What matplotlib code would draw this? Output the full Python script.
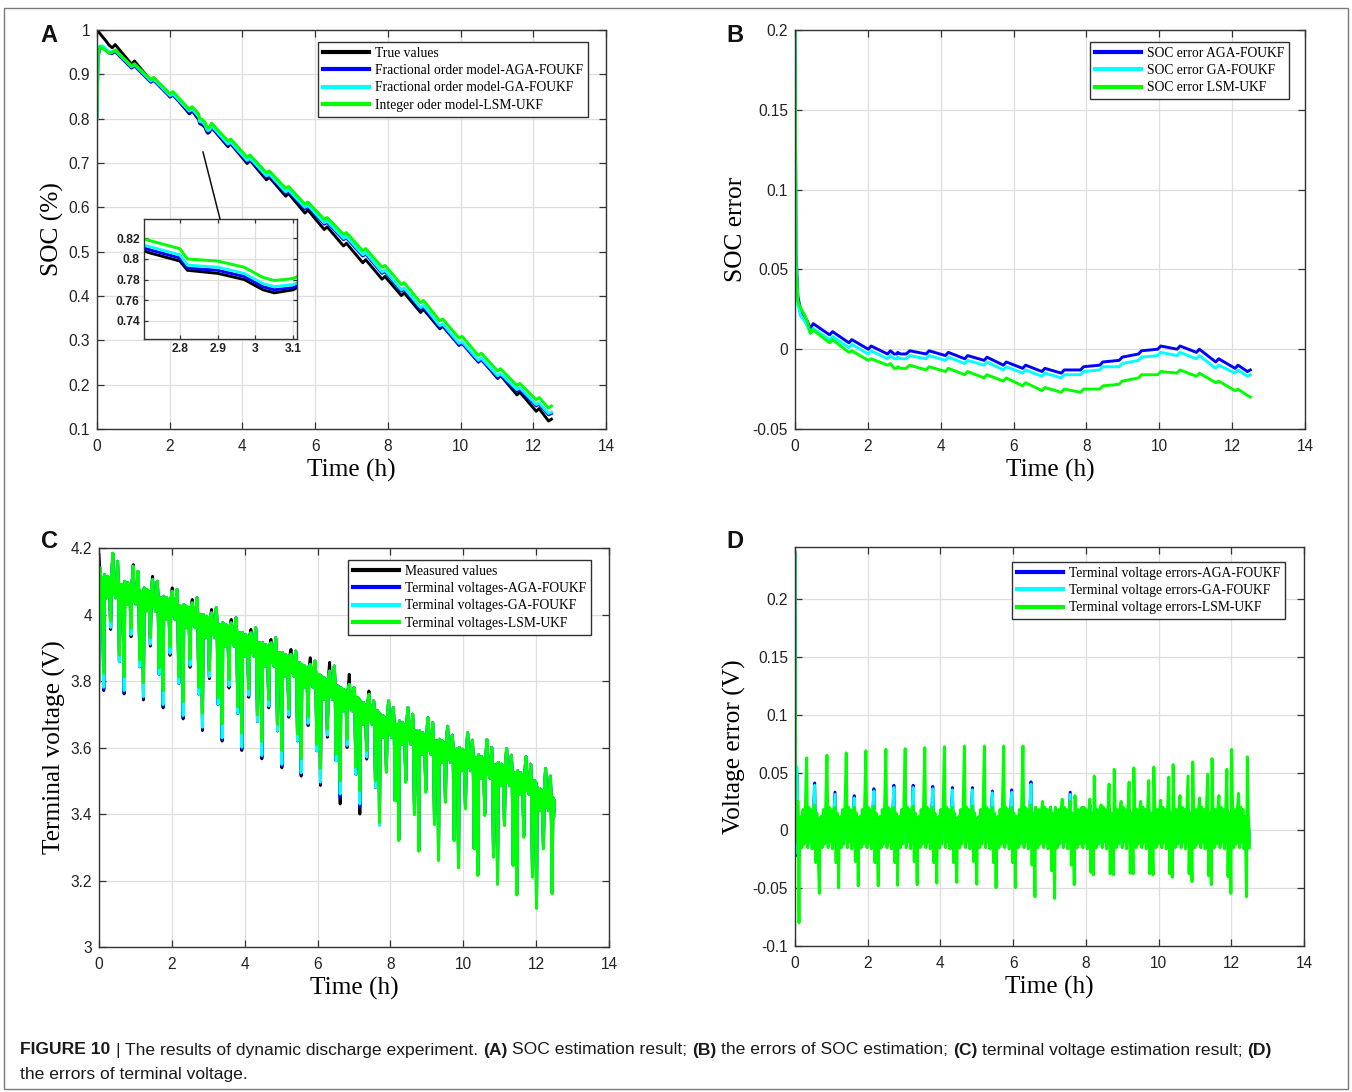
import matplotlib
matplotlib.use('Agg')
import matplotlib.pyplot as plt
from matplotlib.lines import Line2D
from matplotlib.patches import Rectangle
from matplotlib.ticker import FuncFormatter

plt.rcParams['font.family'] = ['Liberation Sans', 'DejaVu Sans']

# ============================ DATA ============================
# ---- SOC (panels A and B) ----
T_SOC = [0.00, 0.03, 0.08, 0.15, 0.25, 0.33, 0.42, 0.50, 0.95, 1.03,
         1.48, 1.56, 2.01, 2.09, 2.54, 2.62, 2.72, 2.80, 2.82, 2.90,
         2.97, 3.02, 3.05, 3.10, 3.15, 3.60, 3.68, 4.13, 4.21, 4.66,
         4.74, 5.19, 5.27, 5.72, 5.80, 6.25, 6.33, 6.78, 6.86, 7.31,
         7.39, 7.84, 7.92, 8.37, 8.45, 8.90, 8.98, 9.43, 9.51, 9.96,
         10.04, 10.49, 10.57, 11.02, 11.10, 11.55, 11.63, 12.08, 12.16, 12.42,
         12.50]
SOC_TRUE = [1.000, 0.997, 0.992, 0.985, 0.975, 0.966, 0.960, 0.967, 0.923, 0.930,
            0.886, 0.892, 0.849, 0.855, 0.811, 0.818, 0.806, 0.798, 0.789, 0.786,
            0.780, 0.770, 0.767, 0.770, 0.780, 0.737, 0.743, 0.699, 0.706, 0.662,
            0.668, 0.625, 0.631, 0.587, 0.594, 0.550, 0.556, 0.513, 0.519, 0.475,
            0.482, 0.438, 0.444, 0.401, 0.407, 0.363, 0.370, 0.326, 0.332, 0.289,
            0.295, 0.251, 0.258, 0.214, 0.221, 0.177, 0.183, 0.140, 0.146, 0.118,
            0.122]
# SOC error = true - estimate
ERR_AGA = [0.200, 0.060, 0.033, 0.025, 0.021, 0.018, 0.013, 0.016, 0.009, 0.011,
           0.004, 0.006, 0.000, 0.002, -0.003, -0.001, -0.003, -0.003, -0.002, -0.003,
           -0.003, -0.003, -0.003, -0.002, -0.001, -0.003, -0.001, -0.004, -0.002, -0.006,
           -0.004, -0.007, -0.005, -0.010, -0.008, -0.012, -0.010, -0.014, -0.012, -0.015,
           -0.013, -0.013, -0.011, -0.010, -0.008, -0.007, -0.005, -0.003, -0.001, 0.000,
           0.002, 0.000, 0.002, -0.002, 0.000, -0.008, -0.006, -0.012, -0.010, -0.014,
           -0.013]
ERR_GA = [0.200, 0.055, 0.028, 0.021, 0.018, 0.015, 0.010, 0.013, 0.006, 0.008,
          0.001, 0.003, -0.003, -0.001, -0.006, -0.004, -0.006, -0.006, -0.005, -0.006,
          -0.006, -0.006, -0.006, -0.005, -0.004, -0.006, -0.004, -0.007, -0.005, -0.009,
          -0.007, -0.010, -0.008, -0.013, -0.011, -0.015, -0.013, -0.017, -0.015, -0.018,
          -0.016, -0.016, -0.014, -0.013, -0.011, -0.011, -0.009, -0.007, -0.005, -0.004,
          -0.002, -0.004, -0.002, -0.006, -0.004, -0.012, -0.010, -0.015, -0.013, -0.017,
          -0.016]
ERR_LSM = [0.200, 0.050, 0.030, 0.026, 0.022, 0.018, 0.010, 0.012, 0.004, 0.006,
           -0.002, -0.001, -0.007, -0.006, -0.010, -0.009, -0.012, -0.012, -0.011, -0.012,
           -0.012, -0.012, -0.012, -0.011, -0.010, -0.013, -0.011, -0.014, -0.012, -0.016,
           -0.014, -0.018, -0.016, -0.020, -0.018, -0.023, -0.021, -0.026, -0.024, -0.027,
           -0.025, -0.027, -0.025, -0.025, -0.023, -0.022, -0.020, -0.018, -0.016, -0.016,
           -0.014, -0.015, -0.013, -0.017, -0.015, -0.021, -0.020, -0.026, -0.025, -0.029,
           -0.030]

# ---- Terminal voltage (panel C), one entry per discharge cycle ----
T_END = 12.5
TD = [0.13, 0.69, 1.22, 1.76, 2.31, 2.84, 3.38, 3.92, 4.47, 5.02, 5.55, 6.08,
      6.62, 7.16, 7.70, 8.23, 8.78, 9.32, 9.87, 10.40, 10.94, 11.47, 12.01, 12.44]
BAND = [4.120, 4.100, 4.080, 4.055, 4.030, 4.000, 3.975, 3.945, 3.915, 3.885, 3.850, 3.815,
        3.780, 3.740, 3.700, 3.680, 3.650, 3.625, 3.600, 3.578, 3.555, 3.530, 3.480, 3.450]
V_DEEP_MEAS = [3.771, 3.761, 3.743, 3.719, 3.686, 3.651, 3.619, 3.591, 3.566, 3.539, 3.514, 3.486,
               3.430, 3.400, 3.370, 3.322, 3.290, 3.262, 3.240, 3.217, 3.190, 3.158, 3.118, 3.162]
V_DEEP_AGA = [3.776, 3.766, 3.748, 3.724, 3.691, 3.656, 3.624, 3.596, 3.571, 3.544, 3.519, 3.491,
              3.450, 3.420, 3.368, 3.324, 3.292, 3.264, 3.242, 3.219, 3.192, 3.160, 3.120, 3.164]
V_DEEP_GA = [3.781, 3.771, 3.753, 3.729, 3.696, 3.661, 3.629, 3.601, 3.576, 3.549, 3.524, 3.496,
             3.460, 3.430, 3.365, 3.324, 3.292, 3.264, 3.242, 3.219, 3.192, 3.160, 3.120, 3.164]
V_DEEP_LSM = [3.823, 3.813, 3.795, 3.771, 3.738, 3.703, 3.671, 3.643, 3.618, 3.591, 3.566, 3.538,
              3.500, 3.470, 3.375, 3.320, 3.288, 3.260, 3.238, 3.215, 3.188, 3.156, 3.116, 3.160]
V_DIPA_MEAS = [3.955, 3.933, 3.905, 3.877, 3.841, 3.807, 3.779, 3.751, 3.719, 3.691, 3.666, 3.631,
               3.600, 3.565, 3.530, 3.500, 3.470, 3.440, 3.420, 3.400, 3.370, 3.335, 3.300, 3.300]
V_DIPA_FO = [3.961, 3.939, 3.911, 3.883, 3.847, 3.813, 3.785, 3.757, 3.725, 3.697, 3.672, 3.637,
             3.606, 3.571, 3.530, 3.500, 3.470, 3.440, 3.420, 3.400, 3.370, 3.335, 3.300, 3.300]
V_DIPA_LSM = [3.980, 3.958, 3.930, 3.902, 3.866, 3.832, 3.804, 3.776, 3.744, 3.716, 3.691, 3.656,
              3.625, 3.590, 3.525, 3.495, 3.465, 3.435, 3.415, 3.395, 3.365, 3.330, 3.295, 3.295]
V_DIPB = [3.858, 3.843, 3.820, 3.793, 3.761, 3.730, 3.703, 3.678, 3.650, 3.620, 3.590, 3.560,
          3.520, 3.480, 3.440, 3.400, 3.370, 3.322, 3.297, 3.272, 3.247, 3.212, 3.300, 3.300]
V_DIPB_LSM = [3.878, 3.863, 3.840, 3.813, 3.781, 3.750, 3.723, 3.698, 3.670, 3.640, 3.610, 3.580,
              3.540, 3.500, 3.440, 3.398, 3.368, 3.320, 3.295, 3.270, 3.245, 3.210, 3.298, 3.298]
V_PEAK_MEAS = [4.184, 4.150, 4.115, 4.080, 4.045, 4.015, 3.985, 3.955, 3.925, 3.895, 3.870, 3.856,
               3.820, 3.770, 3.740, 3.720, 3.690, 3.664, 3.644, 3.624, 3.597, 3.572, 3.537, 3.500]
V_PEAK_EST = [4.184, 4.145, 4.105, 4.070, 4.035, 4.005, 3.975, 3.945, 3.915, 3.880, 3.850, 3.830,
              3.790, 3.760, 3.740, 3.720, 3.690, 3.664, 3.644, 3.624, 3.597, 3.572, 3.537, 3.500]
V_PEAK2 = [4.160, 4.130, 4.100, 4.075, 4.050, 4.020, 3.990, 3.960, 3.930, 3.890, 3.860, 3.845,
           3.780, 3.740, 3.720, 3.700, 3.675, 3.637, 3.622, 3.600, 3.577, 3.550, 3.514, 3.480]
T_V_LEAD = [0.00, 0.01, 0.03, 0.06, 0.09]
V_LEAD_MEAS = [4.180, 4.160, 4.120, 4.060, 4.110]
V_LEAD_EST = [3.800, 3.950, 4.140, 4.060, 4.110]
# repeated within-cycle profile (hours after the deep dip, feature, offset from band top)
C_PROFILE_DT = [0.000, 0.020, 0.040, 0.060, 0.080, 0.100, 0.120, 0.140, 0.160, 0.190,
                0.215, 0.250, 0.270, 0.290, 0.310, 0.330, 0.355, 0.380, 0.400, 0.430,
                0.450, 0.470, 0.490, 0.505, 0.520]
C_PROFILE_KIND = ['deep', 'band', 'band', 'band', 'band', 'band', 'band', 'band', 'band', 'dipA',
                  'band', 'peak', 'band', 'band', 'band', 'band', 'band', 'peak2', 'band', 'dipB',
                  'band', 'band', 'band', 'band', 'band']
C_PROFILE_DV = [0.0, 0.0, -0.06, -0.01, -0.07, -0.005, -0.05, -0.01, -0.04, 0.0,
                -0.01, 0.0, -0.015, -0.06, -0.02, -0.07, -0.02, 0.0, -0.025, 0.0,
                -0.03, -0.08, -0.03, -0.07, -0.035]

# ---- Terminal voltage errors (panel D), one entry per discharge cycle ----
E_LSM_DN0 = [-0.080, -0.0545, -0.0496, -0.048, -0.048, -0.0475, -0.047, -0.0457, -0.045, -0.0466, -0.0496, -0.0496,
             -0.0574, -0.0589, -0.047, -0.0385, -0.0385, -0.0376, -0.0385, -0.0405, -0.0443, -0.047, -0.0545, -0.0574]
E_LSM_UP0 = [0.010, 0.010, 0.010, 0.010, 0.010, 0.010, 0.010, 0.010, 0.010, 0.010, 0.010, 0.012,
             0.020, 0.020, 0.030, 0.047, 0.0527, 0.054, 0.0548, 0.0569, 0.0592, 0.062, 0.070, 0.0636]
E_LSM_UPA = [0.0627, 0.065, 0.067, 0.0688, 0.070, 0.0706, 0.0715, 0.0723, 0.0729, 0.0729, 0.0729, 0.0729,
             0.025, 0.027, 0.020, 0.022, 0.025, 0.025, 0.026, 0.030, 0.028, 0.030, 0.032, 0.030]
E_LSM_UPB = [0.022, 0.020, 0.020, 0.021, 0.020, 0.021, 0.020, 0.020, 0.021, 0.020, 0.020, 0.022,
             0.020, 0.025, 0.027, 0.040, 0.0417, 0.043, 0.046, 0.047, 0.0487, 0.0527, 0.0315, 0.030]
E_LSM_DNB = [-0.028, -0.028, -0.027, -0.028, -0.028, -0.027, -0.028, -0.028, -0.027, -0.028, -0.028, -0.030,
             -0.035, -0.030, -0.0364, -0.0376, -0.037, -0.0376, -0.0376, -0.0376, -0.0394, -0.040, -0.020, -0.020]
E_AGA_DN0 = [-0.022, -0.016, -0.015, -0.014, -0.015, -0.014, -0.015, -0.014, -0.014, -0.013, -0.013, -0.013,
             -0.015, -0.012, -0.012, -0.011, -0.011, -0.011, -0.011, -0.011, -0.011, -0.011, -0.011, -0.011]
E_GA_DN0 = [-0.020, -0.014, -0.013, -0.012, -0.013, -0.012, -0.013, -0.012, -0.012, -0.011, -0.011, -0.011,
            -0.013, -0.010, -0.010, -0.009, -0.009, -0.009, -0.009, -0.009, -0.009, -0.009, -0.009, -0.009]
E_AGA_UPB = [0.041, 0.033, 0.030, 0.036, 0.039, 0.039, 0.038, 0.037, 0.037, 0.034, 0.035, 0.042,
             0.020, 0.033, 0.022, 0.018, 0.018, 0.018, 0.018, 0.018, 0.018, 0.018, 0.018, 0.018]
E_GA_UPB = [0.039, 0.031, 0.028, 0.034, 0.037, 0.037, 0.036, 0.035, 0.035, 0.0325, 0.033, 0.040,
            0.018, 0.031, 0.020, 0.016, 0.016, 0.016, 0.016, 0.016, 0.016, 0.016, 0.016, 0.016]
T_E_LEAD = [0.000, 0.015, 0.050, 0.080]
E_LEAD_LSM = [0.240, 0.030, -0.010, 0.025]
E_LEAD_AGA = [0.240, -0.022, 0.050, 0.010]
E_LEAD_GA = [0.240, -0.020, 0.055, 0.010]
D_PROFILE_DT = [-0.02, 0.00, 0.03, 0.06, 0.09, 0.12, 0.15, 0.19, 0.22,
                0.25, 0.28, 0.31, 0.34, 0.37, 0.41, 0.44, 0.47, 0.50]
D_PROFILE_KIND = ['dn0', 'up0', 'v', 'v', 'v', 'v', 'v', 'upA', 'v',
                  'v', 'v', 'v', 'v', 'v', 'upB', 'dnB', 'v', 'v']
D_PROFILE_LSM = [0.0, 0.0, 0.012, -0.015, 0.018, -0.012, 0.015, 0.0, -0.015,
                 0.020, -0.010, 0.018, -0.016, 0.012, 0.0, 0.0, 0.015, -0.012]
D_PROFILE_FO = [0.0, 0.010, 0.008, -0.010, 0.012, -0.008, 0.010, 0.015, -0.012,
                0.012, -0.008, 0.010, -0.010, 0.008, 0.0, -0.012, 0.010, -0.008]

# ---- text ----
LEG_A = ['True values', 'Fractional order model-AGA-FOUKF',
         'Fractional order model-GA-FOUKF', 'Integer oder model-LSM-UKF']
LEG_B = ['SOC error AGA-FOUKF', 'SOC error GA-FOUKF', 'SOC error LSM-UKF']
LEG_C = ['Measured values', 'Terminal voltages-AGA-FOUKF',
         'Terminal voltages-GA-FOUKF', 'Terminal voltages-LSM-UKF']
LEG_D = ['Terminal voltage errors-AGA-FOUKF', 'Terminal voltage errors-GA-FOUKF',
         'Terminal voltage errors-LSM-UKF']
X_TICKS = [0, 2, 4, 6, 8, 10, 12, 14]
Y_TICKS_A = [0.1, 0.2, 0.3, 0.4, 0.5, 0.6, 0.7, 0.8, 0.9, 1.0]
Y_TICKS_B = [-0.05, 0, 0.05, 0.1, 0.15, 0.2]
Y_TICKS_C = [3.0, 3.2, 3.4, 3.6, 3.8, 4.0, 4.2]
Y_TICKS_D = [-0.1, -0.05, 0, 0.05, 0.1, 0.15, 0.2]
INSET_XTICKS = [2.8, 2.9, 3.0, 3.1]
INSET_YTICKS = [0.74, 0.76, 0.78, 0.80, 0.82]

# ============================ BUILD SERIES ============================
def soc_est(err):
    return [t - e for t, e in zip(SOC_TRUE, err)]

def build_voltage(lead, deep, dipA, peak, dipB):
    t, v = list(T_V_LEAD), list(lead)
    feats = {'deep': deep, 'dipA': dipA, 'peak': peak, 'peak2': V_PEAK2, 'dipB': dipB}
    for k, td in enumerate(TD):
        nxt = TD[k + 1] if k + 1 < len(TD) else 99
        for dt, kind, dv in zip(C_PROFILE_DT, C_PROFILE_KIND, C_PROFILE_DV):
            tt = td + dt
            if tt > T_END or tt >= nxt - 0.01:
                break
            val = feats[kind][k] if kind in feats else BAND[k] + dv
            t.append(tt)
            v.append(val)
    return t, v

def build_error(lead, special, profile):
    t, v = list(T_E_LEAD), list(lead)
    for k, td in enumerate(TD):
        nxt = TD[k + 1] if k + 1 < len(TD) else 99
        for dt, kind, pv in zip(D_PROFILE_DT, D_PROFILE_KIND, profile):
            tt = td + dt
            if tt > T_END or tt >= nxt - 0.025:
                break
            val = special[kind][k] if kind in special else pv
            t.append(tt)
            v.append(val)
    return t, v

COL = {'k': '#000000', 'b': '#0000ff', 'c': '#00ffff', 'g': '#00ff00'}
LW = 2.1

W, H = 1352, 1092
fig = plt.figure(figsize=(W / 100, H / 100), dpi=100)

def axes_px(l, t, r, b):
    return fig.add_axes([l / W, 1 - b / H, (r - l) / W, (b - t) / H])

fmt = FuncFormatter(lambda v, p: f'{v:g}')

def style(ax, xlim, ylim, xt, yt, fs=11.2):
    ax.set_xlim(*xlim)
    ax.set_ylim(*ylim)
    ax.set_xticks(xt)
    ax.set_yticks(yt)
    ax.xaxis.set_major_formatter(fmt)
    ax.yaxis.set_major_formatter(fmt)
    ax.tick_params(direction='in', length=5, width=0.9, top=True, right=True,
                   labelsize=fs, color='#333333', labelcolor='#222222')
    ax.tick_params(axis='x', pad=7)
    ax.tick_params(axis='y', pad=5)
    ax.grid(True, color='#dedede', lw=0.9)
    ax.set_axisbelow(True)
    for s in ax.spines.values():
        s.set_color('#333333')
        s.set_linewidth(1.0)

def labels(ax, xl, yl, ylx):
    ax.set_xlabel(xl, family='Liberation Serif', fontsize=18.3)
    ax.xaxis.set_label_coords(0.5, -0.074)
    ax.set_ylabel(yl, family='Liberation Serif', fontsize=18.3)
    ax.yaxis.set_label_coords(ylx, 0.5)

def legend(ax, names, colors, x, y):
    hs = [Line2D([], [], color=COL[c], lw=3.0) for c in colors]
    lg = ax.legend(hs, names, loc='upper left', bbox_to_anchor=(x / W, 1 - y / H),
                   bbox_transform=fig.transFigure, prop={'family': 'Liberation Serif', 'size': 9.8},
                   frameon=True, fancybox=False, edgecolor='#303030', framealpha=1,
                   borderpad=0.35, labelspacing=0.32, handlelength=3.4, handletextpad=0.45,
                   borderaxespad=0)
    lg.get_frame().set_linewidth(1.0)

# ---------------- Panel A ----------------
axA = axes_px(97, 30, 606, 429)
soc_series = [(SOC_TRUE, 'k'), (soc_est(ERR_AGA), 'b'), (soc_est(ERR_GA), 'c'), (soc_est(ERR_LSM), 'g')]
for y, c in soc_series:
    axA.plot(T_SOC, y, color=COL[c], lw=LW)
style(axA, (0, 14), (0.1, 1.0), X_TICKS, Y_TICKS_A)
labels(axA, 'Time (h)', 'SOC (%)', -0.064)
legend(axA, LEG_A, ['k', 'b', 'c', 'g'], 318, 42)

axI = axes_px(144, 219, 297, 339)
for y, c in soc_series:
    axI.plot(T_SOC, y, color=COL[c], lw=LW)
style(axI, (2.705, 3.11), (0.722, 0.839), INSET_XTICKS, INSET_YTICKS, fs=8.7)
axI.tick_params(length=3, pad=3)
for lab in axI.get_xticklabels() + axI.get_yticklabels():
    lab.set_fontweight('bold')
fig.add_artist(Line2D([220 / W, 203 / W], [1 - 219 / H, 1 - 152 / H], color='#111111', lw=1.1))

# ---------------- Panel B ----------------
axB = axes_px(795, 30, 1305, 429)
for y, c in [(ERR_AGA, 'b'), (ERR_GA, 'c'), (ERR_LSM, 'g')]:
    axB.plot(T_SOC, y, color=COL[c], lw=LW)
style(axB, (0, 14), (-0.05, 0.2), X_TICKS, Y_TICKS_B)
labels(axB, 'Time (h)', 'SOC error', -0.094)
legend(axB, LEG_B, ['b', 'c', 'g'], 1090, 42)

# ---------------- Panel C ----------------
axC = axes_px(99, 548, 609, 947)
c_series = [
    (build_voltage(V_LEAD_MEAS, V_DEEP_MEAS, V_DIPA_MEAS, V_PEAK_MEAS, V_DIPB), 'k'),
    (build_voltage(V_LEAD_EST, V_DEEP_AGA, V_DIPA_FO, V_PEAK_EST, V_DIPB), 'b'),
    (build_voltage(V_LEAD_EST, V_DEEP_GA, V_DIPA_FO, V_PEAK_EST, V_DIPB), 'c'),
    (build_voltage(V_LEAD_EST, V_DEEP_LSM, V_DIPA_LSM, V_PEAK_EST, V_DIPB_LSM), 'g'),
]
for (t, v), c in c_series:
    axC.plot(t, v, color=COL[c], lw=LW)
style(axC, (0, 14), (3.0, 4.2), X_TICKS, Y_TICKS_C)
labels(axC, 'Time (h)', 'Terminal voltage (V)', -0.064)
legend(axC, LEG_C, ['k', 'b', 'c', 'g'], 348, 560)

# ---------------- Panel D ----------------
axD = axes_px(795, 547, 1304, 946)
d_series = [
    (build_error(E_LEAD_AGA, {'dn0': E_AGA_DN0, 'upB': E_AGA_UPB}, D_PROFILE_FO), 'b'),
    (build_error(E_LEAD_GA, {'dn0': E_GA_DN0, 'upB': E_GA_UPB}, D_PROFILE_FO), 'c'),
    (build_error(E_LEAD_LSM, {'dn0': E_LSM_DN0, 'up0': E_LSM_UP0, 'upA': E_LSM_UPA,
                              'upB': E_LSM_UPB, 'dnB': E_LSM_DNB}, D_PROFILE_LSM), 'g'),
]
for (t, v), c in d_series:
    axD.plot(t, v, color=COL[c], lw=LW)
style(axD, (0, 14), (-0.1, 0.245), X_TICKS, Y_TICKS_D)
labels(axD, 'Time (h)', 'Voltage error (V)', -0.096)
legend(axD, LEG_D, ['b', 'c', 'g'], 1012, 562)

# ---------------- panel letters ----------------
for s, x, y in [('A', 49, 36), ('B', 735, 36), ('C', 50, 541), ('D', 735, 541)]:
    fig.text(x / W, 1 - y / H, s, fontsize=17, fontweight='bold', family='Liberation Sans',
             ha='center', va='center', color='#111111')

# ---------------- outer frame ----------------
fig.add_artist(Rectangle((4 / W, 1 - 1089 / H), (1348 - 4) / W, (1089 - 8) / H,
                         transform=fig.transFigure, fill=False, edgecolor='#7a7a7a', lw=1.0))

# ---------------- caption ----------------
CAP1 = [('FIGURE 10', 'bold'), ('|', 'normal'), ('The results of dynamic discharge experiment.', 'normal'),
        ('(A)', 'bold'), ('SOC estimation result;', 'normal'), ('(B)', 'bold'),
        ('the errors of SOC estimation;', 'normal'), ('(C)', 'bold'),
        ('terminal voltage estimation result;', 'normal'), ('(D)', 'bold')]
CAP2 = [('the errors of terminal voltage.', 'normal')]

renderer = fig.canvas.get_renderer()

def tw(s, weight, fs):
    t = fig.text(0, 0, s, fontsize=fs, fontweight=weight, family='Liberation Sans')
    w = t.get_window_extent(renderer).width
    t.remove()
    return w

def line_width(parts, fs):
    sp = tw('a a', 'normal', fs) - tw('aa', 'normal', fs)
    return sum(tw(s, w, fs) for s, w in parts) + sp * (len(parts) - 1)

fs0 = 11.5
fs = fs0 * (1275 - 20) / line_width(CAP1, fs0)

def draw_line(parts, y):
    sp = tw('a a', 'normal', fs) - tw('aa', 'normal', fs)
    x = 20
    for s, w in parts:
        fig.text(x / W, 1 - y / H, s, fontsize=fs, fontweight=w, family='Liberation Sans',
                 ha='left', va='center', color='#1a1a1a')
        x += tw(s, w, fs) + sp

draw_line(CAP1, 1050)
draw_line(CAP2, 1075)

fig.savefig('out.png', dpi=100)
